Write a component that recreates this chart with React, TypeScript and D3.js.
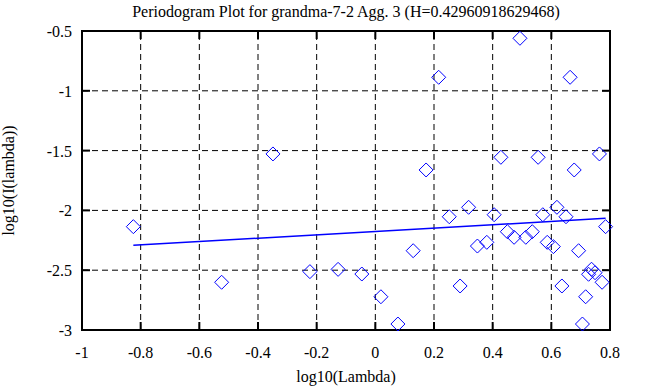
import * as d3 from 'd3';

const title = 'Periodogram Plot for grandma-7-2 Agg. 3 (H=0.42960918629468)';
const xLabel = 'log10(Lambda)';
const yLabel = 'log10(I(lambda))';

const xTicks = [-1, -0.8, -0.6, -0.4, -0.2, 0, 0.2, 0.4, 0.6, 0.8];
const yTicks = [-3, -2.5, -2, -1.5, -1, -0.5];

// log10(lambda) and log10(I(lambda))
const logLambda = [
  -0.825, -0.524, -0.349, -0.223, -0.127, -0.046, 0.019, 0.077, 0.129, 0.173,
  0.216, 0.252, 0.289, 0.318, 0.348, 0.380, 0.405, 0.428, 0.450, 0.473,
  0.493, 0.513, 0.535, 0.555, 0.571, 0.586, 0.607, 0.619, 0.636, 0.650,
  0.664, 0.678, 0.693, 0.706, 0.717, 0.727, 0.737, 0.749, 0.764, 0.773, 0.785,
];
const logPower = [
  -2.136, -2.601, -1.528, -2.512, -2.493, -2.532, -2.722, -2.950, -2.337, -1.662,
  -0.887, -2.053, -2.632, -1.974, -2.298, -2.267, -2.036, -1.556, -2.178, -2.225,
  -0.561, -2.225, -2.178, -1.556, -2.036, -2.267, -2.303, -1.974, -2.632, -2.053,
  -0.887, -1.662, -2.337, -2.950, -2.722, -2.534, -2.492, -2.521, -1.528, -2.601, -2.136,
];

// least-squares fit endpoints
const fitX = [-0.825, 0.785];
const fitY = [-2.292, -2.066];

const W = 653;
const H = 387;
const margin = { top: 31, right: 43, bottom: 57, left: 82 };

export default function App() {
  const x = d3.scaleLinear().domain([-1, 0.8]).range([margin.left, W - margin.right]);
  const y = d3.scaleLinear().domain([-3, -0.5]).range([H - margin.bottom, margin.top]);
  const x0 = margin.left, x1 = W - margin.right, y0 = H - margin.bottom, y1 = margin.top;

  const fitLine = d3.line<number>()
    .x((_, i) => x(fitX[i]))
    .y((d) => y(d))(fitY) || '';

  const font = '"Liberation Serif", "DejaVu Serif", serif';
  const tickLen = 8;

  return (
    <svg width={W} height={H} style={{ position: 'absolute', left: 0, top: 0, background: '#fff' }}
      fontFamily={font} fontSize={16}>
      <rect width={W} height={H} fill="#fff" />
      <text x={(x0 + x1) / 2} y={17} textAnchor="middle">{title}</text>

      {/* grid */}
      {xTicks.slice(1, -1).map((t) => (
        <line key={'gx' + t} x1={x(t)} x2={x(t)} y1={y0} y2={y1} stroke="#000" strokeDasharray="6,4" />
      ))}
      {yTicks.slice(1, -1).map((t) => (
        <line key={'gy' + t} x1={x0} x2={x1} y1={y(t)} y2={y(t)} stroke="#000" strokeDasharray="6,4" />
      ))}

      {/* ticks */}
      {xTicks.map((t) => (
        <g key={'tx' + t}>
          <line x1={x(t)} x2={x(t)} y1={y0} y2={y0 - tickLen} stroke="#000" strokeWidth={2} />
          <line x1={x(t)} x2={x(t)} y1={y1} y2={y1 + tickLen} stroke="#000" strokeWidth={2} />
          <text x={x(t)} y={y0 + 28} textAnchor="middle">{String(t)}</text>
        </g>
      ))}
      {yTicks.map((t) => (
        <g key={'ty' + t}>
          <line x1={x0} x2={x0 + tickLen} y1={y(t)} y2={y(t)} stroke="#000" strokeWidth={2} />
          <line x1={x1} x2={x1 - tickLen} y1={y(t)} y2={y(t)} stroke="#000" strokeWidth={2} />
          <text x={x0 - 10} y={y(t) + 6} textAnchor="end">{String(t)}</text>
        </g>
      ))}

      <rect x={x0} y={y1} width={x1 - x0} height={y0 - y1} fill="none" stroke="#000" strokeWidth={2} />

      {/* points */}
      {logLambda.map((lx, i) => {
        const cx = x(lx), cy = y(logPower[i]), r = 7;
        return (
          <path key={'p' + i}
            d={`M${cx},${cy - r}L${cx + r},${cy}L${cx},${cy + r}L${cx - r},${cy}Z`}
            fill="none" stroke="#0000ff" strokeWidth={1} />
        );
      })}

      <path d={fitLine} fill="none" stroke="#0000ff" strokeWidth={1.5} />

      <text x={(x0 + x1) / 2} y={382} textAnchor="middle">{xLabel}</text>
      <text transform={`translate(14,${(y0 + y1) / 2}) rotate(-90)`} textAnchor="middle">{yLabel}</text>
    </svg>
  );
}
